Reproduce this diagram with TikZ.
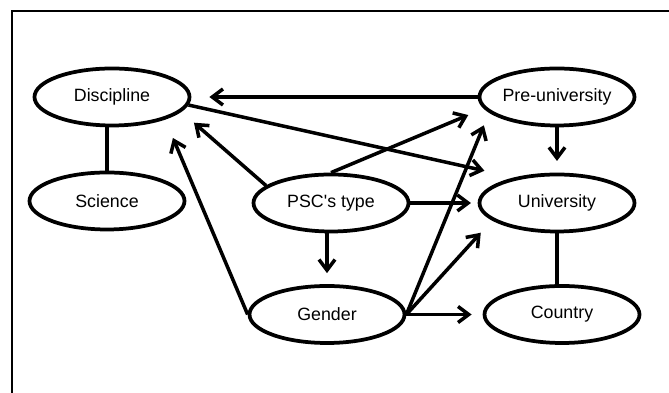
\documentclass[tikz,border=0pt]{standalone}
\usepackage{fontspec}
\setmainfont{Liberation Sans}
\usepackage{tikz}
\usetikzlibrary{arrows.meta,shapes.geometric}
\tikzset{v/.style={ellipse, draw, line width=3.2pt, inner sep=0pt,
  minimum width=4.65cm, minimum height=1.71cm,
  font=\fontsize{15.2}{18}\selectfont}}
\tikzset{ar/.style={draw, line width=3pt,
  -{Straight Barb[length=3.2mm,width=4.8mm]}}}
\tikzset{ln/.style={draw, line width=3pt}}

\begin{document}
\begin{tikzpicture}
    \useasboundingbox (0,0) rectangle (20.07,11.79);
    \draw [line width=1.7pt] (0.36,0) -- (0.36,11.46) -- (20.07,11.46);
    %%
    \node (disc) at (3.36,8.88) [v] {Discipline};
    \node (sci) at (3.21,5.76) [v] {Science};
    \node (psc) at (9.93,5.70) [v] {PSC\textquotesingle s type};
    \node (gen) at (9.81,2.355) [v] {Gender};
    \node (pre) at (16.71,8.88) [v] {Pre-university};
    \node (uni) at (16.71,5.70) [v] {University};
    \node (cty) at (16.86,2.355) [v] {Country};
    %%
    \draw [ln] (disc.south -| sci.north) to (sci.north);
    \draw [ln] (uni.south) to (uni.south |- cty.north);
    %%
    \draw [ar, shorten >=0.54cm] (pre.west) to (disc.east);
    \draw [ar, shorten >=0.35cm] (pre.south) to (uni.north);
    \draw [ar, shorten >=0.92cm] (disc.-6) to (uni.149);
    %%
    \draw [ar, shorten >=0.5cm] (psc.165) to (disc.-12);
    \draw [ar, shorten >=0.5cm] (psc.north) to (pre.189);
    \draw [ar, shorten >=0.2cm] (psc.east) to (uni.west);
    \draw [ar, shorten >=0.33cm] (psc.south -| gen.north) to (gen.north);
    %%
    \draw [ar, shorten >=0.6cm] (gen.west) to (disc.-23);
    \draw [ar, shorten >=0.41cm] (gen.east) to (pre.193);
    \draw [ar, shorten >=0.5cm] (gen.east) to (uni.195);
    \draw [ar, shorten >=0.33cm] (gen.east) to (cty.west);
\end{tikzpicture}
\end{document}
